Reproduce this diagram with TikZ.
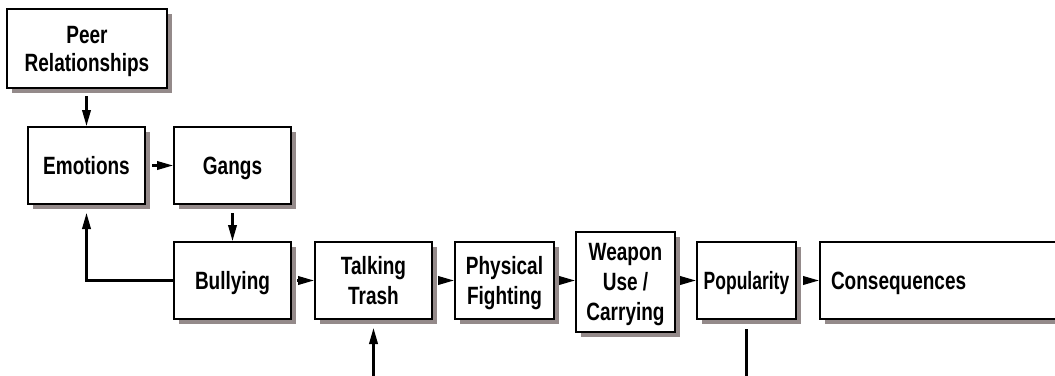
\documentclass[tikz,border=0pt]{standalone}
\usepackage{fontspec}
\setmainfont[FakeStretch=0.76]{Liberation Sans}
\usetikzlibrary{arrows.meta,shadows}
\definecolor{shadowc}{RGB}{148,138,138}
\tikzset{
  box/.style={draw=black, line width=2pt, fill=white, align=center,
    font=\fontsize{25}{30}\selectfont\bfseries, inner sep=2pt, text depth=0pt,
    drop shadow={shadow xshift=5pt, shadow yshift=-5pt, fill=shadowc, opacity=1}},
  arr/.style={line width=2.2pt, -{Triangle[length=16pt,width=8.5pt]}},
  ln/.style={line width=2.2pt}
}
\begin{document}
\begin{tikzpicture}[x=1pt,y=-1pt]
\useasboundingbox (0,0) rectangle (1055,375);
\clip (0,0) rectangle (1055,375);
\node[box, minimum width=160pt, minimum height=79pt, font=\fontsize{25}{28}\selectfont\bfseries] (peer) at (87,48.5) {Peer\\Relationships};
\node[box, minimum width=117pt, minimum height=77pt] (emo) at (86.5,165.5) {Emotions};
\node[box, minimum width=117pt, minimum height=77pt] (gangs) at (232.5,165.5) {Gangs};
\node[box, minimum width=117pt, minimum height=77pt] (bully) at (232.5,280.5) {Bullying};
\node[box, minimum width=117pt, minimum height=77pt] (talk) at (373.5,280.5) {Talking\\Trash};
\node[box, minimum width=99pt, minimum height=77pt] (phys) at (504.5,280.5) {Physical\\Fighting};
\node[box, minimum width=99pt, minimum height=100pt] (weap) at (625.5,282) {Weapon\\Use /\\Carrying};
\node[box, minimum width=99pt, minimum height=77pt, font=\fontsize{25}{30}\selectfont\bfseries\addfontfeature{FakeStretch=0.7}] (pop) at (746.5,280.5) {Popularity};
\node[box, anchor=west, minimum height=77pt, text width=228pt, inner xsep=11pt, align=left] (cons) at (819,280.5) {Consequences};
\coordinate (tin) at (373.5,380);
\coordinate (pout) at (746.5,380);
\draw[arr, shorten <=7pt] (peer.south -| emo.north) -- (emo.north);
\draw[arr, shorten <=6pt] (emo.east) -- (gangs.west);
\draw[arr, shorten <=8pt] (gangs.south) -- (bully.north);
\draw[arr, shorten >=8pt] (bully.west) -| (emo.south);
\draw[arr, shorten <=5pt] (bully.east) -- (talk.west);
\draw[arr, shorten <=5pt] (talk.east) -- (phys.west);
\draw[arr, shorten <=5pt] (phys.east) -- (weap.west |- phys.east);
\draw[arr, shorten <=4pt] (weap.east |- pop.west) -- (pop.west);
\draw[arr, shorten <=6pt] (pop.east) -- (cons.west);
\draw[arr, shorten >=8pt] (tin) -- (talk.south);
\draw[ln, shorten <=9pt] (pop.south) -- (pout);
\end{tikzpicture}
\end{document}
